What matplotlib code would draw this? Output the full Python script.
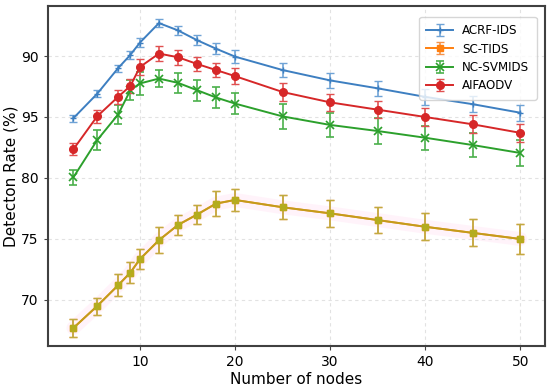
import matplotlib
matplotlib.use('Agg')
import matplotlib.pyplot as plt
import numpy as np

# number of nodes
nodes = [3, 5.5, 7.7, 9, 10, 12, 14, 16, 18, 20, 25, 30, 35, 40, 45, 50]

# detection rates
acrf = [84.9, 86.9, 89.0, 90.1, 91.1, 92.7, 92.1, 91.3, 90.6, 89.95, 88.85, 88.0, 87.35, 86.65, 86.05, 85.35]
acrf_err = [0.3, 0.3, 0.3, 0.35, 0.4, 0.35, 0.35, 0.4, 0.45, 0.55, 0.55, 0.6, 0.6, 0.65, 0.65, 0.65]

sc_tids = [67.7, 69.5, 71.2, 72.25, 73.35, 74.9, 76.15, 77.0, 77.9, 78.2, 77.6, 77.1, 76.55, 76.0, 75.5, 75.0]
sc_err = [0.7, 0.7, 0.9, 0.85, 0.8, 1.05, 0.85, 0.8, 1.0, 0.9, 1.0, 1.1, 1.1, 1.1, 1.1, 1.2]

nc_svm = [80.05, 83.1, 85.2, 87.2, 87.75, 88.15, 87.8, 87.2, 86.6, 86.1, 85.05, 84.35, 83.85, 83.3, 82.7, 82.05]
nc_err = [0.6, 0.8, 0.8, 0.8, 0.95, 0.7, 0.8, 0.85, 0.9, 0.85, 1.0, 1.0, 1.1, 1.0, 1.0, 1.1]

aifaodv = [82.35, 85.05, 86.65, 87.55, 89.1, 90.2, 89.9, 89.35, 88.85, 88.35, 87.05, 86.2, 85.6, 85.0, 84.4, 83.7]
aif_err = [0.5, 0.55, 0.55, 0.55, 0.65, 0.6, 0.6, 0.55, 0.6, 0.65, 0.7, 0.7, 0.7, 0.75, 0.75, 0.75]

ytick_vals = [70, 75, 80, 85, 90]
ytick_text = ['70', '75', '80', '95', '90']
xtick_vals = [10, 20, 30, 40, 50]

fig = plt.figure(figsize=(5.5, 3.87), dpi=100)
ax = fig.add_axes([0.0867, 0.1067, 0.9043, 0.8778])

# faint pink glow behind the SC-TIDS line
ax.plot(nodes, sc_tids, color='#ffe8f6', lw=10, alpha=0.5, zorder=1, solid_capstyle='round')

kw = dict(capsize=3, elinewidth=1.2, lw=1.4, zorder=3)
ax.errorbar(nodes, acrf, yerr=acrf_err, color='#3d7fc1', ecolor='#6fa3d6',
            marker='+', ms=5, label='ACRF-IDS', **kw)
ax.errorbar(nodes, sc_tids, yerr=sc_err, color='#ff7f0e', ecolor='#f5924a',
            marker='s', ms=4, label='SC-TIDS', **kw)
# olive overlay gives the golden look of the original
ax.errorbar(nodes, sc_tids, yerr=sc_err, color='#b8a21e', ecolor='#b8b040',
            marker='s', ms=4, mfc='#b0b020', mec='#b0b020', alpha=0.85,
            capsize=3, elinewidth=1.2, lw=1.4, zorder=4)
ax.errorbar(nodes, nc_svm, yerr=nc_err, color='#2ca02c', ecolor='#4cb04c',
            marker='x', ms=6, mew=1.2, label='NC-SVMIDS', **kw)
ax.errorbar(nodes, aifaodv, yerr=aif_err, color='#d62728', ecolor='#e05050',
            marker='o', ms=5.5, label='AIFAODV', **kw)

ax.set_xlim(0.3, 52.6)
ax.set_ylim(66.25, 94.1)
ax.set_xticks(xtick_vals)
ax.set_yticks(ytick_vals)
ax.set_yticklabels(ytick_text)
ax.tick_params(labelsize=10, length=3, color='#444444')
ax.grid(True, ls=(0, (3, 3)), color='#e2e2e2', lw=0.8)
for s in ax.spines.values():
    s.set_color('#404040')
    s.set_linewidth(1.5)

ax.set_xlabel('Number of nodes', fontsize=11, labelpad=2)
ax.set_ylabel('Detecton Rate (%)', fontsize=11, labelpad=2)
ax.legend(loc='upper right', fontsize=8.6, borderpad=0.6, handlelength=2.2,
          labelspacing=0.45, bbox_to_anchor=(0.995, 0.985))

fig.savefig('out.png', dpi=100)
